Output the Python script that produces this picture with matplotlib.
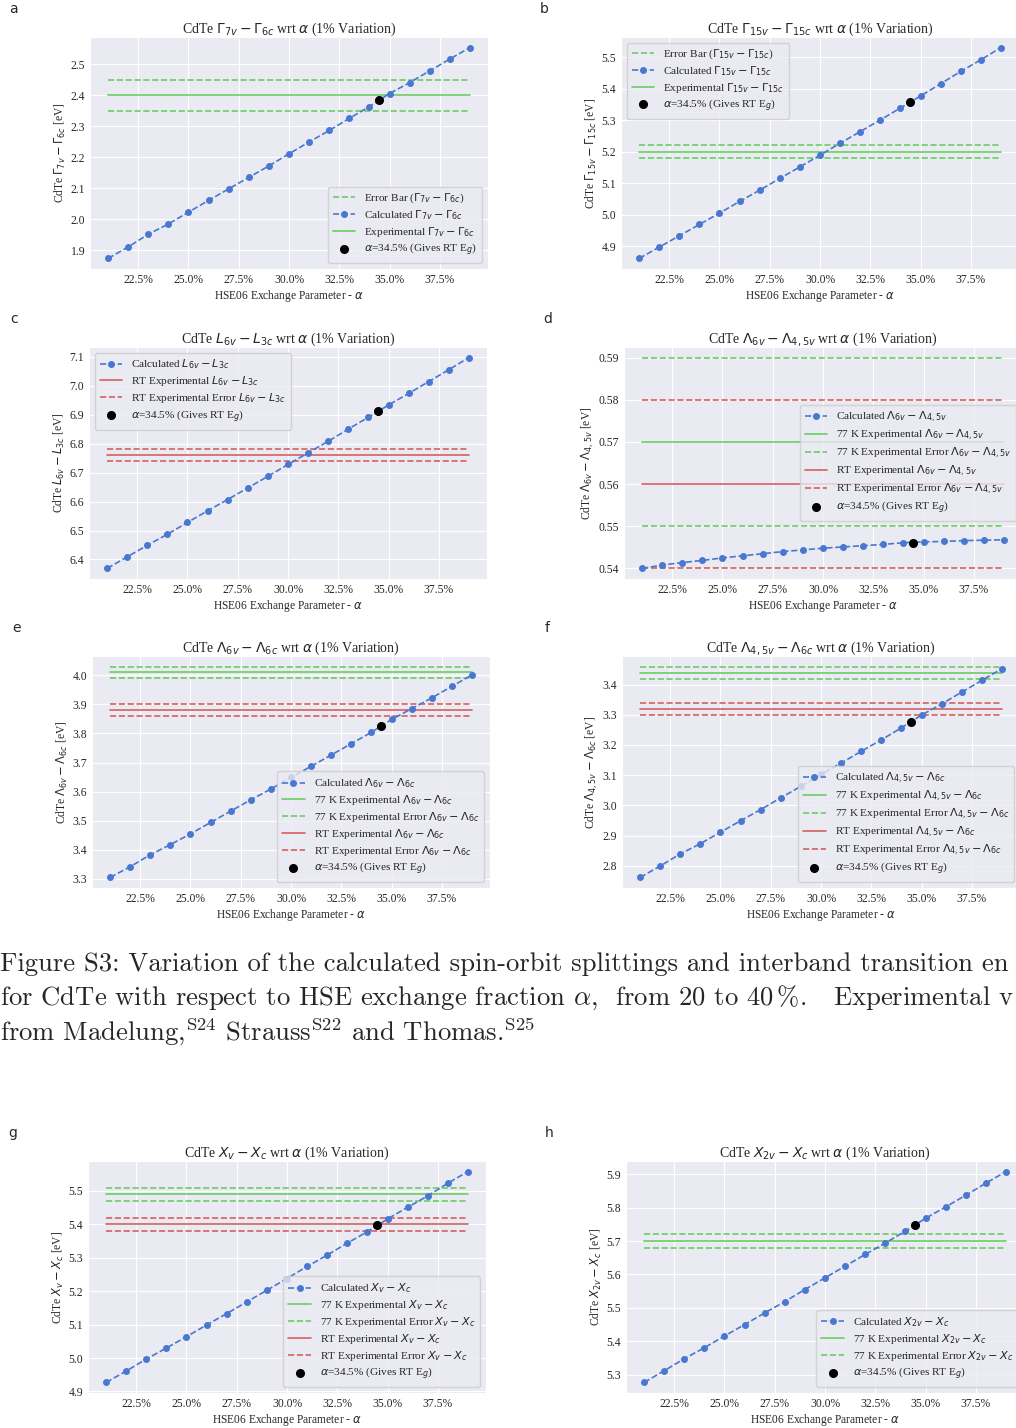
import matplotlib
matplotlib.use("Agg")
import matplotlib.pyplot as plt
import seaborn as sns
from matplotlib.ticker import PercentFormatter

sns.set_style("darkgrid")
plt.rcParams['font.family'] = ['Liberation Serif', 'DejaVu Serif']
plt.rcParams['mathtext.fontset'] = 'dejavusans'

# ---------------- data ----------------
alpha = [21, 22, 23, 24, 25, 26, 27, 28, 29, 30, 31, 32, 33, 34, 35, 36, 37, 38, 39]
alpha_rt = 34.5

g7v_g6c = [1.874, 1.911, 1.952, 1.985, 2.023, 2.061, 2.098, 2.135, 2.172, 2.211,
           2.249, 2.286, 2.325, 2.363, 2.405, 2.440, 2.478, 2.516, 2.553]
g7v_g6c_rt = 2.383
g7v_g6c_exp = 2.40
g7v_g6c_err = [2.35, 2.45]

g15v_g15c = [4.861, 4.897, 4.933, 4.969, 5.005, 5.042, 5.078, 5.115, 5.152, 5.189,
             5.227, 5.264, 5.301, 5.339, 5.377, 5.416, 5.455, 5.492, 5.531]
g15v_g15c_rt = 5.358
g15v_g15c_exp = 5.20
g15v_g15c_err = [5.18, 5.22]

l6v_l3c = [6.369, 6.409, 6.449, 6.487, 6.528, 6.568, 6.607, 6.647, 6.687, 6.728,
           6.768, 6.808, 6.850, 6.891, 6.933, 6.973, 7.014, 7.055, 7.097]
l6v_l3c_rt = 6.911
l6v_l3c_exp_rt = 6.76
l6v_l3c_err_rt = [6.74, 6.78]

lam6v_lam45v = [0.5400, 0.5408, 0.5414, 0.5419, 0.5425, 0.5430, 0.5435, 0.5440, 0.5444, 0.5448,
                0.5451, 0.5454, 0.5457, 0.5461, 0.5463, 0.5464, 0.5466, 0.5467, 0.5468]
lam6v_lam45v_rt = 0.5461
lam6v_lam45v_exp_77 = 0.57
lam6v_lam45v_err_77 = [0.55, 0.59]
lam6v_lam45v_exp_rt = 0.56
lam6v_lam45v_err_rt = [0.54, 0.58]

lam6v_lam6c = [3.305, 3.342, 3.383, 3.418, 3.455, 3.494, 3.533, 3.572, 3.609, 3.649,
               3.687, 3.726, 3.765, 3.804, 3.848, 3.885, 3.922, 3.962, 4.001]
lam6v_lam6c_rt = 3.824
lam6v_lam6c_exp_77 = 4.01
lam6v_lam6c_err_77 = [3.99, 4.03]
lam6v_lam6c_exp_rt = 3.88
lam6v_lam6c_err_rt = [3.86, 3.90]

lam45v_lam6c = [2.761, 2.799, 2.839, 2.873, 2.911, 2.949, 2.986, 3.025, 3.063, 3.103,
                3.140, 3.179, 3.217, 3.257, 3.299, 3.336, 3.375, 3.414, 3.453]
lam45v_lam6c_rt = 3.276
lam45v_lam6c_exp_77 = 3.44
lam45v_lam6c_err_77 = [3.42, 3.46]
lam45v_lam6c_exp_rt = 3.32
lam45v_lam6c_err_rt = [3.30, 3.34]

xv_xc = [4.927, 4.961, 4.997, 5.030, 5.064, 5.099, 5.133, 5.168, 5.203, 5.238,
         5.274, 5.308, 5.344, 5.378, 5.416, 5.451, 5.485, 5.523, 5.558]
xv_xc_rt = 5.397
xv_xc_exp_77 = 5.49
xv_xc_err_77 = [5.47, 5.51]
xv_xc_exp_rt = 5.40
xv_xc_err_rt = [5.38, 5.42]

x2v_xc = [5.277, 5.312, 5.348, 5.381, 5.416, 5.450, 5.485, 5.519, 5.555, 5.590,
          5.625, 5.660, 5.694, 5.730, 5.768, 5.802, 5.837, 5.873, 5.908]
x2v_xc_rt = 5.749
x2v_xc_exp_77 = 5.70
x2v_xc_err_77 = [5.68, 5.72]

caption_lines = [
    "Figure S3: Variation of the calculated spin-orbit splittings and interband transition en",
    "for CdTe with respect to HSE exchange fraction $\\alpha$,  from 20 to 40$\\,$%.   Experimental v",
    "from Madelung,$^{\\rm S24}$ Strauss$^{\\rm S22}$ and Thomas.$^{\\rm S25}$",
]

# ---------------- style ----------------
BLUE = '#4878d0'
GREEN = '#6acc64'
RED = '#d65f5f'
W, H = 1016, 1428
AXW, AXH = 398, 232
TICK_FS = 8.4
LAB_FS = 8.3
TITLE_FS = 10
LEG_FS = 8.1
LW = 1.2

fig = plt.figure(figsize=(W / 100, H / 100), dpi=100)


def make_ax(x0, y0):
    return fig.add_axes([x0 / W, 1 - (y0 + AXH) / H, AXW / W, AXH / H])


def hline(ax, v, color, ls, label=None):
    return ax.plot([alpha[0], alpha[-1]], [v, v], color=color, ls=ls, lw=LW, label=label)[0]


def finish(ax, title, ylabel, handles, loc):
    ax.set_title(title, fontsize=TITLE_FS, pad=3)
    ax.set_ylabel(ylabel, fontsize=LAB_FS, labelpad=2)
    ax.set_xlabel("HSE06 Exchange Parameter - $\\alpha$", fontsize=LAB_FS, labelpad=1.5)
    ax.xaxis.set_major_formatter(PercentFormatter(100, decimals=1))
    ax.tick_params(labelsize=TICK_FS, length=0, pad=3.5)
    ax.legend(handles=handles, loc=loc, fontsize=LEG_FS, handlelength=2.0,
              borderpad=0.45, labelspacing=0.26)


def calc(ax, y, label):
    return ax.plot(alpha, y, color=BLUE, ls='--', marker='o', ms=4, lw=LW, label=label)[0]


def dot(ax, v):
    return ax.plot([alpha_rt], [v], 'o', color='black', ms=5.5,
                   label="$\\alpha$=34.5% (Gives RT E$_g$)", zorder=5)[0]


# ---- a ----
ax = make_ax(90, 37)
q = "\\Gamma_{7v} - \\Gamma_{6c}"
h1 = hline(ax, g7v_g6c_err[0], GREEN, '--', "Error Bar ($%s$)" % q)
hline(ax, g7v_g6c_err[1], GREEN, '--')
h3 = hline(ax, g7v_g6c_exp, GREEN, '-', "Experimental $%s$" % q)
h2 = calc(ax, g7v_g6c, "Calculated $%s$" % q)
h4 = dot(ax, g7v_g6c_rt)
finish(ax, "CdTe $%s$ wrt $\\alpha$ (1%% Variation)" % q, "CdTe $%s$ [eV]" % q,
       [h1, h2, h3, h4], 'lower right')

# ---- b ----
ax = make_ax(621, 37)
q = "\\Gamma_{15v} - \\Gamma_{15c}"
h1 = hline(ax, g15v_g15c_err[0], GREEN, '--', "Error Bar ($%s$)" % q)
hline(ax, g15v_g15c_err[1], GREEN, '--')
h3 = hline(ax, g15v_g15c_exp, GREEN, '-', "Experimental $%s$" % q)
h2 = calc(ax, g15v_g15c, "Calculated $%s$" % q)
h4 = dot(ax, g15v_g15c_rt)
finish(ax, "CdTe $%s$ wrt $\\alpha$ (1%% Variation)" % q, "CdTe $%s$ [eV]" % q,
       [h1, h2, h3, h4], 'upper left')

# ---- c ----
ax = make_ax(89, 347)
q = "L_{6v} - L_{3c}"
h2 = hline(ax, l6v_l3c_exp_rt, RED, '-', "RT Experimental $%s$" % q)
h3 = hline(ax, l6v_l3c_err_rt[0], RED, '--', "RT Experimental Error $%s$" % q)
hline(ax, l6v_l3c_err_rt[1], RED, '--')
h1 = calc(ax, l6v_l3c, "Calculated $%s$" % q)
h4 = dot(ax, l6v_l3c_rt)
finish(ax, "CdTe $%s$ wrt $\\alpha$ (1%% Variation)" % q, "CdTe $%s$ [eV]" % q,
       [h1, h2, h3, h4], 'upper left')


def five(ax, q, y, rt, e77, err77, ert, errrt, loc):
    a2 = hline(ax, e77, GREEN, '-', "77 K Experimental $%s$" % q)
    a3 = hline(ax, err77[0], GREEN, '--', "77 K Experimental Error $%s$" % q)
    hline(ax, err77[1], GREEN, '--')
    a4 = hline(ax, ert, RED, '-', "RT Experimental $%s$" % q)
    a5 = hline(ax, errrt[0], RED, '--', "RT Experimental Error $%s$" % q)
    hline(ax, errrt[1], RED, '--')
    a1 = calc(ax, y, "Calculated $%s$" % q)
    a6 = dot(ax, rt)
    finish(ax, "CdTe $%s$ wrt $\\alpha$ (1%% Variation)" % q, "CdTe $%s$ [eV]" % q,
           [a1, a2, a3, a4, a5, a6], loc)


# ---- d ----
ax = make_ax(624, 347)
five(ax, "\\Lambda_{6v} - \\Lambda_{4,5v}", lam6v_lam45v, lam6v_lam45v_rt,
     lam6v_lam45v_exp_77, lam6v_lam45v_err_77, lam6v_lam45v_exp_rt, lam6v_lam45v_err_rt,
     'center right')

# ---- e ----
ax = make_ax(92, 656)
five(ax, "\\Lambda_{6v} - \\Lambda_{6c}", lam6v_lam6c, lam6v_lam6c_rt,
     lam6v_lam6c_exp_77, lam6v_lam6c_err_77, lam6v_lam6c_exp_rt, lam6v_lam6c_err_rt,
     'lower right')

# ---- f ----
ax = make_ax(622, 656)
five(ax, "\\Lambda_{4,5v} - \\Lambda_{6c}", lam45v_lam6c, lam45v_lam6c_rt,
     lam45v_lam6c_exp_77, lam45v_lam6c_err_77, lam45v_lam6c_exp_rt, lam45v_lam6c_err_rt,
     'lower right')

# ---- g ----
ax = make_ax(88, 1161)
five(ax, "X_v - X_c", xv_xc, xv_xc_rt,
     xv_xc_exp_77, xv_xc_err_77, xv_xc_exp_rt, xv_xc_err_rt, 'lower right')

# ---- h ----
ax = make_ax(626, 1161)
q = "X_{2v} - X_c"
h2 = hline(ax, x2v_xc_exp_77, GREEN, '-', "77 K Experimental $%s$" % q)
h3 = hline(ax, x2v_xc_err_77[0], GREEN, '--', "77 K Experimental Error $%s$" % q)
hline(ax, x2v_xc_err_77[1], GREEN, '--')
h1 = calc(ax, x2v_xc, "Calculated $%s$" % q)
h4 = dot(ax, x2v_xc_rt)
finish(ax, "CdTe $%s$ wrt $\\alpha$ (1%% Variation)" % q, "CdTe $%s$ [eV]" % q,
       [h1, h2, h3, h4], 'lower right')

# ---- panel letters ----
for lab, px, py in [('a', 9, 9), ('b', 540, 9), ('c', 10, 319), ('d', 543, 319),
                    ('e', 12, 628), ('f', 545, 628), ('g', 8, 1133), ('h', 545, 1133)]:
    fig.text(px / W, 1 - py / H, lab, family='DejaVu Sans', fontsize=10, va='center', ha='left')

# ---- caption ----
cap_texts = []
for i, line in enumerate(caption_lines):
    t = fig.text(0.0, 1 - (964 + 33.5 * i) / H, line, family='cmr10', math_fontfamily='cm',
                 fontsize=19.8, va='center', ha='left')
    cap_texts.append(t)

# shrink caption font if a line would spill beyond the right edge
renderer = fig.canvas.get_renderer()
widest = max(t.get_window_extent(renderer).x1 for t in cap_texts)
if widest > W - 2:
    fs = 19.8 * (W - 2) / widest
    for t in cap_texts:
        t.set_fontsize(fs)

fig.savefig("out.png", dpi=100)
